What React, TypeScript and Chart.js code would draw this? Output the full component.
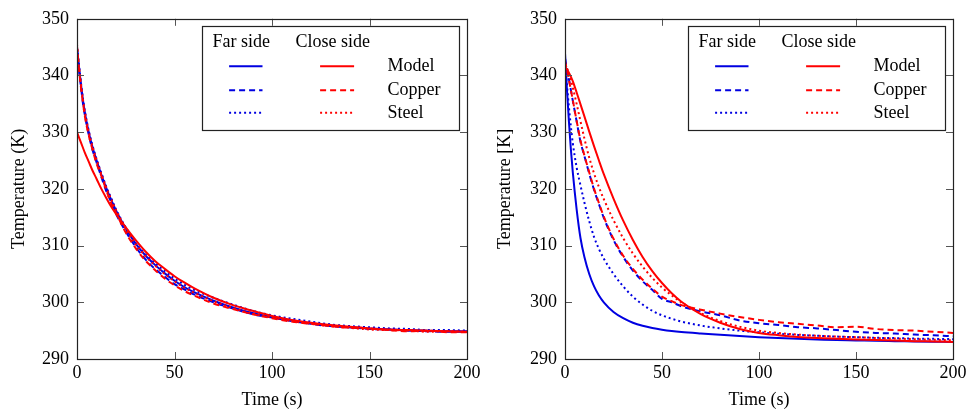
import React, { useEffect, useRef } from 'react';
import { Chart, registerables } from 'chart.js';

Chart.register(...registerables);

// ---------- data ----------
const TIMES = [0, 1, 2, 3, 4, 6, 8, 10, 12.5, 15, 17.5, 20, 25, 30, 35, 40, 45, 50, 55, 60, 70, 80, 90, 100, 110, 120, 130, 140, 150, 160, 170, 180, 190, 200];

const X_TICKS = [0, 50, 100, 150, 200];
const Y_TICKS = [290, 300, 310, 320, 330, 340, 350];

// Left panel
const L_FAR_MODEL = [345, 341.6, 338.5, 335.8, 333.5, 330, 327.3, 325.1, 322.5, 320.2, 318.1, 316.2, 313, 310.4, 308.3, 306.6, 305.1, 303.8, 302.7, 301.8, 300.3, 299.1, 298.1, 297.4, 296.8, 296.3, 295.9, 295.6, 295.4, 295.2, 295.1, 295, 294.9, 294.9];
const L_CLOSE_MODEL = [330, 329.1, 328.2, 327.3, 326.4, 324.8, 323.2, 321.8, 320, 318.4, 316.9, 315.6, 313.2, 311, 309, 307.3, 305.9, 304.6, 303.5, 302.5, 300.8, 299.5, 298.5, 297.6, 296.9, 296.4, 296, 295.7, 295.4, 295.2, 295.1, 295, 294.9, 294.8];
const L_FAR_COPPER = [344.6, 341, 338.2, 335.2, 333.1, 329.6, 326.8, 324.7, 322.1, 319.6, 317.7, 315.6, 312.5, 309.8, 307.6, 305.9, 304.5, 303.2, 302.3, 301.4, 300, 298.9, 297.9, 297.3, 296.7, 296.2, 295.8, 295.6, 295.3, 295.2, 295, 294.9, 294.8, 294.8];
const L_CLOSE_COPPER = [345.2, 341.3, 338, 335.4, 332.9, 329.5, 326.9, 324.5, 322.3, 319.8, 317.5, 315.8, 312.3, 309.6, 307.4, 305.7, 304.2, 303, 302, 301.2, 299.8, 298.8, 297.9, 297.2, 296.6, 296.2, 295.8, 295.5, 295.4, 295.1, 294.9, 295, 294.7, 294.7];
const L_FAR_STEEL = [344.8, 341.9, 338.8, 336, 333.8, 330.3, 327.6, 325.3, 322.8, 320.4, 318.4, 316.4, 313.2, 310.5, 308.5, 306.9, 305.5, 304.2, 303.1, 302.2, 300.8, 299.6, 298.5, 297.7, 297.1, 296.6, 296.1, 295.8, 295.6, 295.4, 295.3, 295.1, 295.1, 295];
const L_CLOSE_STEEL = [345.5, 341.7, 338.6, 335.9, 333.7, 330.1, 327.4, 325.2, 322.6, 320.3, 318.2, 316.3, 313, 310.3, 308.2, 306.5, 305, 303.7, 302.6, 301.7, 300.2, 299, 298, 297.3, 296.7, 296.2, 295.8, 295.5, 295.2, 295.1, 295, 294.8, 294.9, 294.8];

// Right panel
const R_FAR_MODEL = [344, 337.5, 332.0, 327.1, 323.0, 316.4, 311.3, 308.0, 305.0, 302.8, 301.2, 300.0, 298.3, 297.2, 296.4, 295.85, 295.45, 295.15, 294.92, 294.75, 294.5, 294.28, 294.05, 293.85, 293.7, 293.55, 293.45, 293.35, 293.28, 293.2, 293.15, 293.1, 293.05, 293.0];
const R_CLOSE_MODEL = [341.5, 341.1, 340.5, 339.8, 339.0, 337.0, 334.9, 332.8, 330.1, 327.5, 325.0, 322.6, 318.3, 314.4, 311.0, 308.0, 305.5, 303.4, 301.6, 300.1, 297.9, 296.4, 295.3, 294.6, 294.2, 293.9, 293.7, 293.55, 293.45, 293.35, 293.25, 293.15, 293.08, 293.0];
const R_FAR_COPPER = [343, 341.2, 339.4, 337.5, 335.6, 331.9, 328.3, 325.8, 322.7, 319.8, 317.3, 314.9, 311.0, 308.0, 305.6, 303.7, 302.2, 300.6, 300.0, 299.3, 298.4, 297.7, 296.8, 296.3, 296.0, 295.6, 295.4, 295.1, 294.8, 294.6, 294.5, 294.3, 294.2, 294.0];
const R_CLOSE_COPPER = [342.5, 341.0, 339.3, 337.5, 335.7, 332.0, 328.5, 325.9, 322.9, 320.0, 317.5, 315.1, 311.2, 308.2, 305.9, 304.0, 302.4, 301.0, 300.2, 299.5, 298.7, 298.0, 297.4, 296.9, 296.5, 296.2, 295.9, 295.6, 295.7, 295.3, 295.1, 295.0, 294.8, 294.6];
const R_FAR_STEEL = [343, 338.5, 334.5, 331.1, 328.1, 323.8, 320.6, 317.6, 314.3, 311.5, 309.4, 307.7, 305.0, 302.8, 301.0, 299.6, 298.5, 297.7, 297.1, 296.6, 295.9, 295.4, 295.0, 294.7, 294.45, 294.25, 294.1, 293.95, 293.85, 293.75, 293.68, 293.6, 293.55, 293.5];
const R_CLOSE_STEEL = [342, 341.3, 340.4, 339.3, 337.9, 335.0, 331.9, 328.9, 325.5, 322.7, 320.3, 318.2, 314.5, 311.3, 308.6, 306.3, 304.3, 302.6, 301.2, 300.0, 298.1, 296.7, 295.7, 295.0, 294.6, 294.3, 294.1, 293.95, 293.85, 293.7, 293.6, 293.5, 293.4, 293.3];

const LEGEND_HEADERS = ['Far side', 'Close side'];
const LEGEND_ROWS = ['Model', 'Copper', 'Steel'];

// ---------- styles ----------
const BLUE = 'rgb(0,0,225)';
const RED = 'rgb(255,0,0)';
const FONT_FAMILY = '"Liberation Serif", "Times New Roman", serif';
const FONT_SIZE = 18;
const DASHES: Record<string, number[]> = { Model: [], Copper: [6, 4], Steel: [2, 3] };
const TICK_LEN = 7;

const toPoints = (ys: number[]) => ys.map((y, i) => ({ x: TIMES[i], y }));

const ds = (label: string, ys: number[], color: string, kind: string) => ({
  label,
  data: toPoints(ys),
  borderColor: color,
  backgroundColor: color,
  borderWidth: 2,
  borderDash: DASHES[kind],
  pointRadius: 0,
  fill: false,
  cubicInterpolationMode: 'monotone' as const,
});

const framePlugin = {
  id: 'frameTicksLegend',
  afterDatasetsDraw(chart: any) {
    const { ctx, chartArea: a, scales } = chart;
    ctx.save();
    // inward ticks
    ctx.strokeStyle = '#555';
    ctx.lineWidth = 1;
    ctx.setLineDash([]);
    ctx.beginPath();
    for (const v of X_TICKS) {
      const x = Math.round(scales.x.getPixelForValue(v)) + 0.5;
      ctx.moveTo(x, a.bottom);
      ctx.lineTo(x, a.bottom - TICK_LEN);
      ctx.moveTo(x, a.top);
      ctx.lineTo(x, a.top + TICK_LEN);
    }
    for (const v of Y_TICKS) {
      const y = Math.round(scales.y.getPixelForValue(v)) + 0.5;
      ctx.moveTo(a.left, y);
      ctx.lineTo(a.left + TICK_LEN, y);
      ctx.moveTo(a.right, y);
      ctx.lineTo(a.right - TICK_LEN, y);
    }
    ctx.stroke();
    // frame
    ctx.strokeStyle = '#222';
    ctx.lineWidth = 1.2;
    ctx.strokeRect(Math.round(a.left) + 0.5, Math.round(a.top) + 0.5, Math.round(a.right - a.left), Math.round(a.bottom - a.top));

    // legend
    const bw = 257;
    const bh = 104;
    const bx = Math.round(a.right - 7.7 - bw) + 0.5;
    const by = Math.round(a.top + 7) + 0.5;
    ctx.fillStyle = '#fff';
    ctx.fillRect(bx, by, bw, bh);
    ctx.strokeStyle = '#222';
    ctx.lineWidth = 1.2;
    ctx.strokeRect(bx, by, bw, bh);

    ctx.font = `${FONT_SIZE}px ${FONT_FAMILY}`;
    ctx.fillStyle = '#000';
    ctx.textBaseline = 'middle';
    ctx.textAlign = 'left';
    ctx.fillText(LEGEND_HEADERS[0], bx + 10, by + 16);
    ctx.fillText(LEGEND_HEADERS[1], bx + 93, by + 16);
    const rowY = [39.7, 63.7, 86.3];
    LEGEND_ROWS.forEach((label, i) => {
      const y = by + rowY[i];
      ctx.lineWidth = 2;
      ctx.setLineDash(DASHES[label]);
      ctx.strokeStyle = BLUE;
      ctx.beginPath();
      ctx.moveTo(bx + 26.6, y);
      ctx.lineTo(bx + 60, y);
      ctx.stroke();
      ctx.strokeStyle = RED;
      ctx.beginPath();
      ctx.moveTo(bx + 117.6, y);
      ctx.lineTo(bx + 151.6, y);
      ctx.stroke();
      ctx.setLineDash([]);
      ctx.fillStyle = '#000';
      ctx.fillText(label, bx + 185, y);
    });
    ctx.restore();
  },
};

function makeConfig(series: number[][], yTitle: string, yAxisWidth: number, rightPad: number): any {
  const [farModel, closeModel, farCopper, closeCopper, farSteel, closeSteel] = series;
  const font = { family: FONT_FAMILY, size: FONT_SIZE };
  return {
    type: 'line',
    data: {
      datasets: [
        ds('Close Model', closeModel, RED, 'Model'),
        ds('Close Copper', closeCopper, RED, 'Copper'),
        ds('Close Steel', closeSteel, RED, 'Steel'),
        ds('Far Model', farModel, BLUE, 'Model'),
        ds('Far Copper', farCopper, BLUE, 'Copper'),
        ds('Far Steel', farSteel, BLUE, 'Steel'),
      ],
    },
    options: {
      responsive: false,
      animation: false,
      devicePixelRatio: 1,
      layout: { padding: { top: 16, right: rightPad, bottom: 0, left: 0 } },
      plugins: { legend: { display: false }, tooltip: { enabled: false } },
      scales: {
        x: {
          type: 'linear',
          min: 0,
          max: 200,
          afterBuildTicks: (s: any) => { s.ticks = X_TICKS.map((v) => ({ value: v })); },
          afterFit: (s: any) => { s.height = 54; },
          grid: { display: false, drawTicks: false },
          border: { display: false },
          ticks: { color: '#000', font, padding: 3, maxRotation: 0 },
          title: { display: true, text: 'Time (s)', color: '#000', font, padding: { top: 0, bottom: 2 } },
        },
        y: {
          type: 'linear',
          min: 290,
          max: 350,
          afterBuildTicks: (s: any) => { s.ticks = Y_TICKS.map((v) => ({ value: v })); },
          afterFit: (s: any) => { s.width = yAxisWidth; },
          grid: { display: false, drawTicks: false },
          border: { display: false },
          ticks: { color: '#000', font, padding: 8 },
          title: { display: true, text: yTitle, color: '#000', font, padding: { top: 8, bottom: 0 } },
        },
      },
    },
    plugins: [framePlugin],
  };
}

function Panel({ series, yTitle, yAxisWidth, rightPad, width }: { series: number[][]; yTitle: string; yAxisWidth: number; rightPad: number; width: number }) {
  const ref = useRef<HTMLCanvasElement>(null);
  useEffect(() => {
    if (!ref.current) return;
    const chart = new Chart(ref.current, makeConfig(series, yTitle, yAxisWidth, rightPad));
    return () => chart.destroy();
  }, []);
  return <canvas ref={ref} width={width} height={413} style={{ display: 'block', width, height: 413 }} />;
}

export default function App() {
  return (
    <div style={{ position: 'absolute', left: 0, top: 0, width: 973, height: 413, background: '#fff', display: 'flex' }}>
      <Panel
        series={[L_FAR_MODEL, L_CLOSE_MODEL, L_FAR_COPPER, L_CLOSE_COPPER, L_FAR_STEEL, L_CLOSE_STEEL]}
        yTitle="Temperature (K)"
        yAxisWidth={77}
        rightPad={19}
        width={486}
      />
      <Panel
        series={[R_FAR_MODEL, R_CLOSE_MODEL, R_FAR_COPPER, R_CLOSE_COPPER, R_FAR_STEEL, R_CLOSE_STEEL]}
        yTitle="Temperature [K]"
        yAxisWidth={79}
        rightPad={20}
        width={487}
      />
    </div>
  );
}
